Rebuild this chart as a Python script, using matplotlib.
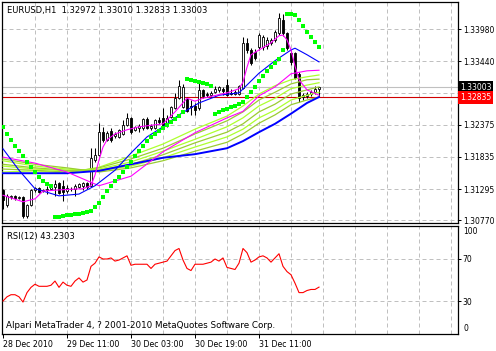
import numpy as np
import matplotlib
matplotlib.use('Agg')
import matplotlib.pyplot as plt
from matplotlib.transforms import blended_transform_factory

# EURUSD H1 candles (bar index 0..79)
opens = [1.3128, 1.3103, 1.3116, 1.3118, 1.3114, 1.3116, 1.3084, 1.3103, 1.3128, 1.3131,
         1.3126, 1.3128, 1.3130, 1.3133, 1.3140, 1.3135, 1.3126, 1.3130, 1.3130, 1.3133,
         1.3135, 1.3140, 1.3135, 1.3178, 1.3187, 1.3225, 1.3212, 1.3227, 1.3218, 1.3217,
         1.3222, 1.3237, 1.3249, 1.3229, 1.3232, 1.3232, 1.3247, 1.3232, 1.3232, 1.3245,
         1.3249, 1.3237, 1.3250, 1.3266, 1.3282, 1.3267, 1.3281, 1.3269, 1.3269, 1.3266,
         1.3296, 1.3289, 1.3287, 1.3292, 1.3296, 1.3298, 1.3304, 1.3291, 1.3289, 1.3289,
         1.3299, 1.3375, 1.3363, 1.3360, 1.3368, 1.3368, 1.3370, 1.3375, 1.3380, 1.3392,
         1.3413, 1.3392, 1.3358, 1.3358, 1.3323, 1.3284, 1.3286, 1.3289, 1.3292, 1.32972]
highs = [1.3130, 1.3121, 1.3119, 1.3119, 1.3118, 1.3118, 1.3104, 1.3130, 1.3133, 1.3133,
         1.3130, 1.3135, 1.3135, 1.3145, 1.3141, 1.3145, 1.3136, 1.3133, 1.3138, 1.3140,
         1.3141, 1.3141, 1.3198, 1.3198, 1.3240, 1.3234, 1.3227, 1.3232, 1.3225, 1.3230,
         1.3245, 1.3257, 1.3250, 1.3235, 1.3239, 1.3249, 1.3250, 1.3239, 1.3247, 1.3250,
         1.3266, 1.3254, 1.3269, 1.3291, 1.3313, 1.3306, 1.3284, 1.3279, 1.3274, 1.3308,
         1.3298, 1.3292, 1.3294, 1.3303, 1.3303, 1.3301, 1.3314, 1.3298, 1.3296, 1.3304,
         1.3385, 1.3383, 1.3366, 1.3365, 1.3392, 1.3388, 1.3385, 1.3383, 1.3397, 1.3425,
         1.3423, 1.3393, 1.3363, 1.3360, 1.3326, 1.3291, 1.3292, 1.3296, 1.3303, 1.33010]
lows = [1.3096, 1.3099, 1.3113, 1.3111, 1.3113, 1.3081, 1.3081, 1.3101, 1.3124, 1.3123,
        1.3124, 1.3121, 1.3128, 1.3118, 1.3121, 1.3109, 1.3123, 1.3126, 1.3118, 1.3131,
        1.3128, 1.3130, 1.3133, 1.3175, 1.3185, 1.3208, 1.3210, 1.3208, 1.3215, 1.3215,
        1.3220, 1.3235, 1.3222, 1.3227, 1.3225, 1.3229, 1.3230, 1.3229, 1.3230, 1.3239,
        1.3232, 1.3234, 1.3249, 1.3264, 1.3281, 1.3266, 1.3259, 1.3254, 1.3254, 1.3262,
        1.3282, 1.3284, 1.3284, 1.3291, 1.3292, 1.3287, 1.3286, 1.3287, 1.3287, 1.3287,
        1.3298, 1.3358, 1.3338, 1.3346, 1.3363, 1.3363, 1.3365, 1.3371, 1.3376, 1.3388,
        1.3387, 1.3363, 1.3338, 1.3314, 1.3276, 1.3279, 1.3282, 1.3286, 1.3289, 1.32833]
closes = [1.3111, 1.3118, 1.3118, 1.3114, 1.3116, 1.3084, 1.3103, 1.3128, 1.3131, 1.3124,
          1.3128, 1.3130, 1.3133, 1.3138, 1.3123, 1.3124, 1.3131, 1.3129, 1.3135, 1.3138,
          1.3140, 1.3133, 1.3182, 1.3187, 1.3225, 1.3212, 1.3224, 1.3212, 1.3222, 1.3229,
          1.3237, 1.3249, 1.3225, 1.3234, 1.3235, 1.3247, 1.3232, 1.3235, 1.3245, 1.3242,
          1.3234, 1.3249, 1.3267, 1.3282, 1.3303, 1.3301, 1.3260, 1.3267, 1.3262, 1.3296,
          1.3286, 1.3287, 1.3291, 1.3298, 1.3301, 1.3294, 1.3287, 1.3289, 1.3292, 1.3303,
          1.3375, 1.3363, 1.3341, 1.3350, 1.3388, 1.3385, 1.3380, 1.3380, 1.3393, 1.3417,
          1.3392, 1.3366, 1.3343, 1.3316, 1.3282, 1.3287, 1.3289, 1.3292, 1.3298, 1.33003]

# moving averages at a few bars
fast_idx = [0, 5, 8, 10, 14, 20, 22, 23, 24, 25, 26, 28, 31, 34, 40, 43, 46, 48, 50, 56,
            59, 60, 61, 62, 64, 67, 69, 70, 71, 72, 73, 74, 76, 79]
fast_ma = [1.3119, 1.3108, 1.3113, 1.3126, 1.3128, 1.3130, 1.3135, 1.3153, 1.3178, 1.3200,
           1.3212, 1.3222, 1.3229, 1.3234, 1.3239, 1.3259, 1.3282, 1.3277, 1.3282, 1.3291,
           1.3298, 1.3309, 1.3334, 1.3355, 1.3363, 1.3375, 1.3387, 1.3388, 1.3380, 1.3363,
           1.3336, 1.3313, 1.3296, 1.3287]
mid_idx = [0, 4, 8, 14, 19, 23, 28, 32, 36, 40, 44, 49, 54, 59, 64, 68, 72, 73, 76, 79]
mid_ma = [1.3197, 1.3161, 1.3130, 1.3118, 1.3121, 1.3135, 1.3161, 1.3190, 1.3217, 1.3234,
          1.3254, 1.3274, 1.3287, 1.3291, 1.3324, 1.3345, 1.3363, 1.3366, 1.3355, 1.3343]
slow_idx = [0, 8, 16, 24, 32, 40, 48, 56, 60, 64, 68, 72, 76, 79]
slow_magenta = [1.3183, 1.3173, 1.3158, 1.3135, 1.3151, 1.3192, 1.3224, 1.3249, 1.3260, 1.3286,
                1.3301, 1.3323, 1.3328, 1.3329]
slow_blue = [1.3156, 1.3156, 1.3156, 1.3160, 1.3171, 1.3182, 1.3188, 1.3198, 1.3210, 1.3225,
             1.3239, 1.3256, 1.3274, 1.3284]
ribbon_1 = [1.3158, 1.3160, 1.3156, 1.3166, 1.3185, 1.3205, 1.3230, 1.3252, 1.3269, 1.3289, 1.3303, 1.3313, 1.3318, 1.3321]
ribbon_2 = [1.3163, 1.3161, 1.3158, 1.3165, 1.3180, 1.3198, 1.3222, 1.3244, 1.3259, 1.3279, 1.3292, 1.3306, 1.3313, 1.3314]
ribbon_3 = [1.3168, 1.3163, 1.3160, 1.3163, 1.3175, 1.3193, 1.3213, 1.3234, 1.3249, 1.3269, 1.3282, 1.3298, 1.3304, 1.3308]
ribbon_4 = [1.3171, 1.3165, 1.3161, 1.3161, 1.3171, 1.3187, 1.3207, 1.3225, 1.3239, 1.3259, 1.3272, 1.3289, 1.3296, 1.3301]
ribbon_5 = [1.3177, 1.3168, 1.3163, 1.3160, 1.3168, 1.3182, 1.3200, 1.3217, 1.3230, 1.3249, 1.3262, 1.3279, 1.3287, 1.3292]
ribbon_6 = [1.3180, 1.3171, 1.3165, 1.3158, 1.3165, 1.3177, 1.3193, 1.3208, 1.3222, 1.3240, 1.3254, 1.3271, 1.3279, 1.3284]

# parabolic SAR, one dot per bar
sar = [1.3234, 1.3222, 1.3212, 1.3202, 1.3193, 1.3185, 1.3175, 1.3166, 1.3158, 1.3150,
       1.3143, 1.3138, 1.3135, 1.3082, 1.3083, 1.3084, 1.3085, 1.3086, 1.3087, 1.3088,
       1.3089, 1.3091, 1.3093, 1.3099, 1.3106, 1.3116, 1.3126, 1.3135, 1.3143, 1.3150,
       1.3158, 1.3166, 1.3175, 1.3185, 1.3193, 1.3202, 1.3210, 1.3217, 1.3222, 1.3227,
       1.3232, 1.3237, 1.3242, 1.3247, 1.3252, 1.3259, 1.3314, 1.3313, 1.3311, 1.3309,
       1.3308, 1.3306, 1.3303, 1.3256, 1.3259, 1.3262, 1.3264, 1.3267, 1.3269, 1.3272,
       1.3276, 1.3284, 1.3292, 1.3301, 1.3311, 1.3319, 1.3328, 1.3334, 1.3341, 1.3348,
       1.3363, 1.3423, 1.3423, 1.3422, 1.3413, 1.3403, 1.3393, 1.3385, 1.3376, 1.3368]

rsi = [30, 34, 36, 36, 34, 29, 38, 43, 46, 44,
       44, 44, 45, 49, 43, 48, 45, 44, 49, 52,
       48, 50, 63, 66, 72, 70, 70, 71, 68, 69,
       71, 73, 64, 65, 65, 65, 65, 61, 65, 66,
       67, 68, 73, 78, 80, 69, 61, 59, 65, 65,
       65, 66, 67, 70, 68, 71, 62, 61, 60, 66,
       80, 76, 67, 69, 72, 73, 71, 67, 71, 75,
       63, 58, 55, 47, 38, 38, 40, 41, 41, 43.2303]

price_ticks = [1.33980, 1.33440, 1.32910, 1.32375, 1.31835, 1.31295, 1.30770]
price_labels = ['1.33980', '1.33440', '', '1.32375', '1.31835', '1.31295', '1.30770']
bid, ask_line = 1.33003, 1.32835
time_ticks = [0, 16, 32, 48, 64]
time_labels = ['28 Dec 2010', '29 Dec 11:00', '30 Dec 03:00', '30 Dec 19:00', '31 Dec 11:00']

plt.rcParams['font.family'] = 'DejaVu Sans'
FS = 6.0       # title texts
FS_AX = 5.5    # axis labels
W, H = 496, 351
fig = plt.figure(figsize=(W / 100, H / 100), dpi=100)
fig.patch.set_facecolor('white')

ax = fig.add_axes([2 / W, 1 - 223 / H, 456 / W, 221 / H])
ax2 = fig.add_axes([2 / W, 1 - 334 / H, 456 / W, 108 / H])

grid_kw = dict(color='#c0c0c0', lw=0.72, ls=(0, (4, 3)), zorder=0)
for a in (ax, ax2):
    a.set_xlim(-0.25, 113.75)
    for s in a.spines.values():
        s.set_linewidth(0.9)
    for gx in range(8, 113, 8):
        a.axvline(gx, **grid_kw)
    a.yaxis.tick_right()
    a.tick_params(axis='y', length=2.2, width=0.72, pad=1.2, labelsize=FS_AX)

ax.set_ylim(1.30724, 1.34436)
ax.set_yticks(price_ticks)
ax.set_yticklabels(price_labels)
ax.set_xticks([])
for p in price_ticks:
    ax.axhline(p, **grid_kw)

# bid / ask lines
ax.axhline(bid, color='#c0c0c0', lw=0.8, zorder=1)
ax.axhline(ask_line, color='#d00000', lw=0.8, zorder=1)

# candles
idx = np.arange(len(closes))
o = np.array(opens); c = np.array(closes)
ax.vlines(idx, lows, highs, color='black', lw=0.75, zorder=2)
bottom = np.minimum(o, c)
height = np.abs(c - o)
fills = ['white' if cc >= oo else 'black' for oo, cc in zip(o, c)]
ax.bar(idx, height, bottom=bottom, width=0.62, color=fills, edgecolor='black',
       linewidth=0.6, zorder=3)

# indicators
green_cols = ['#adff2f', '#9acd32', '#adff2f', '#9acd32', '#adff2f', '#9acd32']
for ln, col in zip([ribbon_1, ribbon_2, ribbon_3, ribbon_4, ribbon_5, ribbon_6], green_cols):
    ax.plot(slow_idx, ln, color=col, lw=0.9, zorder=4)
ax.plot(slow_idx, slow_blue, color='#0000ff', lw=1.4, zorder=4)
ax.plot(slow_idx, slow_magenta, color='#ff00ff', lw=0.8, zorder=4)
ax.plot(mid_idx, mid_ma, color='#0000ff', lw=0.8, zorder=4)
ax.plot(fast_idx, fast_ma, color='#ff00ff', lw=0.8, zorder=4)
ax.plot(idx, sar, ls='none', marker='s', ms=2.2, mew=0, color='#00ff00', zorder=5)

ax.text(5 / 456, 1 - 9 / 221, 'EURUSD,H1  1.32972 1.33010 1.32833 1.33003',
        transform=ax.transAxes, fontsize=FS, va='center', ha='left')

trans = blended_transform_factory(ax.transAxes, ax.transData)
ax.text(1.004, bid, '1.33003', transform=trans, color='white', fontsize=FS_AX,
        va='center', ha='left', clip_on=False, zorder=10,
        bbox=dict(boxstyle='square,pad=0.25', fc='black', ec='none'))
ax.text(1.004, ask_line, '1.32835', transform=trans, color='white', fontsize=FS_AX,
        va='center', ha='left', clip_on=False, zorder=10,
        bbox=dict(boxstyle='square,pad=0.25', fc='#ff0000', ec='none'))

# RSI panel
ax2.set_ylim(-1.4, 101.4)
ax2.set_yticks([70, 30])
ax2.set_yticklabels(['70', '30'])
for lv in (70, 30):
    ax2.axhline(lv, **grid_kw)
trans2 = blended_transform_factory(ax2.transAxes, ax2.transData)
ax2.text(1.011, 100, '100', transform=trans2, fontsize=FS_AX, va='top', ha='left')
ax2.text(1.011, 0, '0', transform=trans2, fontsize=FS_AX, va='bottom', ha='left')
ax2.plot(idx, rsi, color='#ff0000', lw=0.8, zorder=4)
ax2.text(5 / 456, 1 - 10 / 108, 'RSI(12) 43.2303', transform=ax2.transAxes,
         fontsize=FS, va='center', ha='left')
ax2.text(4 / 456, 8 / 108, 'Alpari MetaTrader 4, ? 2001-2010 MetaQuotes Software Corp.',
         transform=ax2.transAxes, fontsize=6.35, va='center', ha='left')

ax2.set_xticks(time_ticks)
ax2.set_xticklabels(time_labels, ha='left')
ax2.tick_params(axis='x', length=3, width=0.72, pad=1.5, labelsize=5.7)

fig.savefig('out.png', dpi=100, facecolor='white')
